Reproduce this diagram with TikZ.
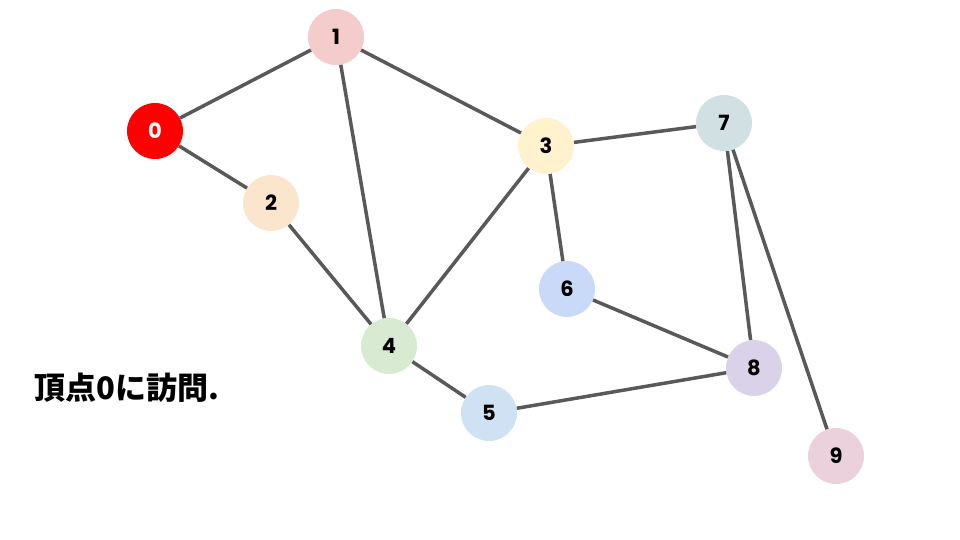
\documentclass[tikz,border=0pt]{standalone}
\usepackage{fontspec}
\usepackage{tikz}
\usepackage{xcolor}
\newfontfamily\numfont{Poppins}
\newfontfamily\jpfont{Noto Sans CJK JP}
\definecolor{c0}{HTML}{FF0000}
\definecolor{c1}{HTML}{F4CCCC}
\definecolor{c2}{HTML}{FCE5CD}
\definecolor{c3}{HTML}{FFF2CC}
\definecolor{c4}{HTML}{D9EAD3}
\definecolor{c5}{HTML}{CFE2F3}
\definecolor{c6}{HTML}{C9DAF8}
\definecolor{c7}{HTML}{D0E0E3}
\definecolor{c8}{HTML}{D9D2E9}
\definecolor{c9}{HTML}{EAD1DC}
\definecolor{edgegray}{HTML}{595959}

\begin{document}
\begin{tikzpicture}[x=1pt, y=-1pt, main/.style = {circle, minimum size=56pt, inner sep=0pt, font=\numfont\bfseries\fontsize{21}{21}\selectfont}, link/.style = {draw=edgegray, line width=3.5pt}]
    \useasboundingbox (0,0) rectangle (960,540);
    \node[main, fill=c0, text=white] (0) at (155,131) {0};
    \node[main, fill=c1] (1) at (336,37) {1};
    \node[main, fill=c2] (2) at (271,203) {2};
    \node[main, fill=c3] (3) at (546,146) {3};
    \node[main, fill=c4] (4) at (389,346) {4};
    \node[main, fill=c5] (5) at (489,413) {5};
    \node[main, fill=c6] (6) at (567,289) {6};
    \node[main, fill=c7] (7) at (724,123) {7};
    \node[main, fill=c8] (8) at (754,368) {8};
    \node[main, fill=c9] (9) at (836,456) {9};
    \path[link] (0) -- (1);
    \path[link] (0) -- (2);
    \path[link] (1) -- (3);
    \path[link] (1) -- (4);
    \path[link] (2) -- (4);
    \path[link] (3) -- (4);
    \path[link] (3) -- (6);
    \path[link] (3) -- (7);
    \path[link] (4) -- (5);
    \path[link] (5) -- (8);
    \path[link] (6) -- (8);
    \path[link] (7) -- (8);
    \path[link] (7) -- (9);
    \node[anchor=west, inner sep=0pt, font=\jpfont\bfseries\fontsize{31}{31}\selectfont] (msg) at (34,388) {頂点0に訪問.};
\end{tikzpicture}
\end{document}
